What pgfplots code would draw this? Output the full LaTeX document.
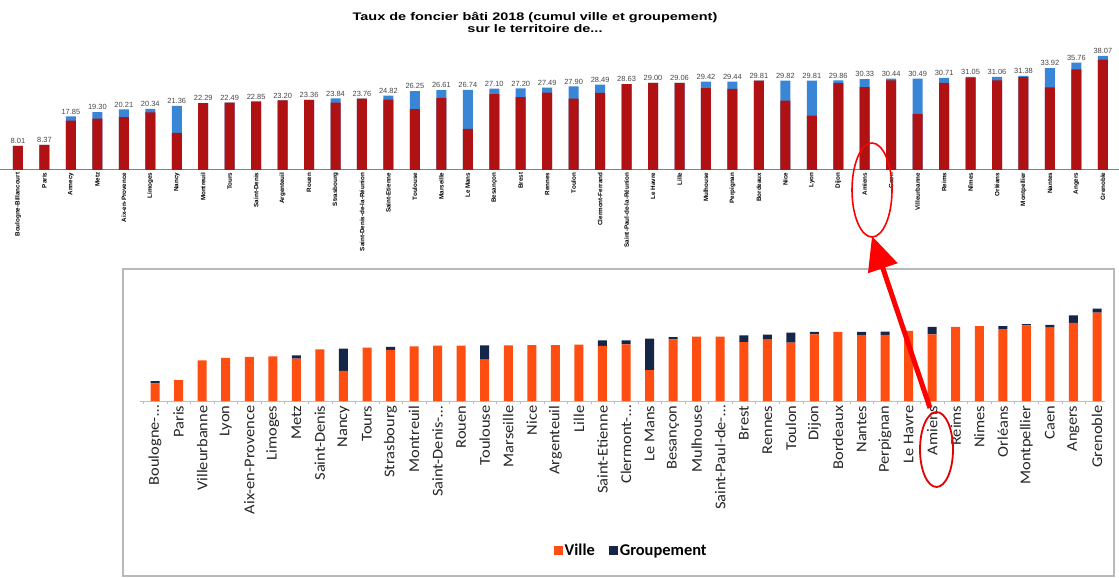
\documentclass[border=0pt]{standalone}
\usepackage{pgfplots}
\pgfplotsset{compat=1.18}
\usepackage{pgfplotstable}
\usepackage{fontspec}
\setmainfont{Liberation Sans}
\newfontfamily\carlito{Carlito}
\usetikzlibrary{arrows.meta}
\definecolor{topred}{RGB}{176,18,20}
\definecolor{topblue}{RGB}{58,134,214}
\definecolor{orng}{RGB}{255,78,18}
\definecolor{navy}{RGB}{22,38,72}

\pgfplotstableread{
x ville grp lab
0 8.01 0 8.01
1 8.37 0 8.37
2 16.45 1.40 17.85
3 17.10 2.20 19.30
4 17.61 2.60 20.21
5 19.24 1.10 20.34
6 12.36 9.00 21.36
7 22.29 0 22.29
8 22.49 0 22.49
9 22.75 0.10 22.85
10 23.20 0 23.20
11 23.36 0 23.36
12 22.44 1.40 23.84
13 23.76 0 23.76
14 23.42 1.40 24.82
15 20.25 6.00 26.25
16 24.01 2.60 26.61
17 13.74 13.00 26.74
18 25.30 1.80 27.10
19 24.30 2.90 27.20
20 25.79 1.70 27.49
21 23.80 4.10 27.90
22 25.69 2.80 28.49
23 28.63 0 28.63
24 29.00 0 29.00
25 29.06 0 29.06
26 27.32 2.10 29.42
27 27.04 2.40 29.44
28 29.81 0 29.81
29 23.12 6.70 29.82
30 18.11 11.70 29.81
31 28.96 0.90 29.86
32 27.63 2.70 30.33
33 29.84 0.60 30.44
34 18.69 11.80 30.49
35 29.01 1.70 30.71
36 30.75 0.30 31.05
37 29.86 1.20 31.06
38 30.98 0.40 31.38
39 27.52 6.40 33.92
40 33.56 2.20 35.76
41 36.77 1.30 38.07
}\toptable

\pgfplotstableread{
x ville grp
0 7.1 1.0
1 8.5 0
2 16.5 0
3 17.5 0
4 17.9 0
5 18.1 0
6 17.2 1.3
7 20.9 0
8 12.2 9.0
9 21.6 0
10 20.7 1.2
11 22.1 0
12 22.4 0
13 22.4 0
14 16.8 5.7
15 22.5 0
16 22.7 0
17 22.7 0
18 22.9 0
19 22.3 2.3
20 23.0 1.6
21 12.5 12.8
22 25.0 0.9
23 26.1 0
24 26.1 0
25 23.9 2.7
26 24.9 2.0
27 23.7 4.0
28 27.0 1.0
29 28.0 0
30 26.7 1.3
31 26.8 1.3
32 28.4 0
33 27.0 3.0
34 30.1 0
35 30.4 0
36 29.1 1.3
37 30.7 0.5
38 29.7 1.2
39 31.7 3.0
40 35.8 1.6
}\bottable

\begin{document}
\begin{tikzpicture}
\useasboundingbox (0,0) rectangle (1119bp,578bp);
\fill[white] (0,0) rectangle (1119bp,578bp);

\node[align=center, font=\fontsize{11}{12}\selectfont\bfseries] at (535bp,556bp)
  {\scalebox{1.32}[1]{Taux de foncier bâti 2018 (cumul ville et groupement)}\\\scalebox{1.32}[1]{sur le territoire de...}};

\begin{axis}[
  at={(0bp,408bp)}, anchor=south west, scale only axis,
  width=1119bp, height=120bp,
  xmin=-0.68, xmax=41.61, ymin=0, ymax=40,
  ybar, bar width=10bp, bar shift=0pt,
  axis x line=bottom, axis y line=none,
  x axis line style={gray, -, line width=1bp},
  xtick={0,...,41}, major tick length=0,
  xticklabels={Boulogne-Billancourt, Paris, Annecy, Metz, Aix-en-Provence, Limoges, Nancy, Montreuil, Tours, Saint-Denis, Argenteuil, Rouen, Strasbourg, Saint-Denis-de-la-Réunion, Saint-Etienne, Toulouse, Marseille, Le Mans, Besançon, Brest, Rennes, Toulon, Clermont-Ferrand, Saint-Paul-de-la-Réunion, Le Havre, Lille, Mulhouse, Perpignan, Bordeaux, Nice, Lyon, Dijon, Amiens, Caen, Villeurbanne, Reims, Nîmes, Orléans, Montpellier, Nantes, Angers, Grenoble},
  xticklabel style={rotate=90, anchor=east, inner sep=2.5bp, font=\fontsize{6.3}{7}\selectfont\bfseries},
]
\addplot[fill=topblue, draw=none, nodes near coords, point meta=explicit symbolic,
  every node near coord/.style={font=\fontsize{7.5}{8}\selectfont, text=black!72, inner sep=2bp}]
  table[x=x,y=lab,meta=lab]{\toptable};
\addplot[fill=topred, draw=none] table[x=x,y=ville]{\toptable};
\end{axis}

\draw[gray!55, line width=1.2bp] (123bp,2bp) rectangle (1114bp,309bp);

\begin{axis}[
  at={(140bp,177bp)}, anchor=south west, scale only axis,
  width=965bp, height=111bp,
  xmin=-0.64, xmax=40.34, ymin=0, ymax=45,
  ybar stacked, bar width=9bp,
  axis x line=bottom, axis y line=none,
  x axis line style={gray!50, -, line width=0.8bp},
  ytick={5,10,...,45}, yticklabels={}, ymajorgrids,
  grid style={gray!22, line width=0.7bp},
  xtick={0,...,40}, major tick length=0,
  minor xtick={-0.5,0.5,...,40.5}, minor tick length=3bp, tick align=outside,
  minor tick style={gray!50},
  xticklabels={Boulogne-…, Paris, Villeurbanne, Lyon, Aix-en-Provence, Limoges, Metz, Saint-Denis, Nancy, Tours, Strasbourg, Montreuil, Saint-Denis-…, Rouen, Toulouse, Marseille, Nice, Argenteuil, Lille, Saint-Etienne, Clermont-…, Le Mans, Besançon, Mulhouse, Saint-Paul-de-…, Brest, Rennes, Toulon, Dijon, Bordeaux, Nantes, Perpignan, Le Havre, Amiens, Reims, Nimes, Orléans, Montpellier, Caen, Angers, Grenoble},
  xticklabel style={rotate=90, xscale=1.1, anchor=east, inner sep=4bp, font=\carlito\fontsize{15}{16}\selectfont, text=black!85},
  legend style={at={(0.509,-1.35)}, anchor=center, draw=none, fill=none,
    legend columns=2, font=\carlito\fontsize{16.5}{17}\selectfont\bfseries,
    /tikz/every even column/.style={column sep=12bp}},
  legend image code/.code={\fill[#1] (0bp,-4.5bp) rectangle (9bp,4.5bp);},
]
\addplot[fill=orng, draw=none] table[x=x,y=ville]{\bottable};
\addplot[fill=navy, draw=none] table[x=x,y=grp]{\bottable};
\legend{Ville, Groupement}
\end{axis}

\draw[red, line width=1.6bp] (872bp,388bp) ellipse [x radius=20bp, y radius=47bp];
\draw[red!90!black, line width=1.8bp] (936.5bp,128.5bp) ellipse [x radius=16.5bp, y radius=37.5bp];
\draw[red, line width=5bp, -{Triangle[length=34bp,width=30bp]}] (930bp,170bp) -- (872bp,342bp);
\end{tikzpicture}
\end{document}
